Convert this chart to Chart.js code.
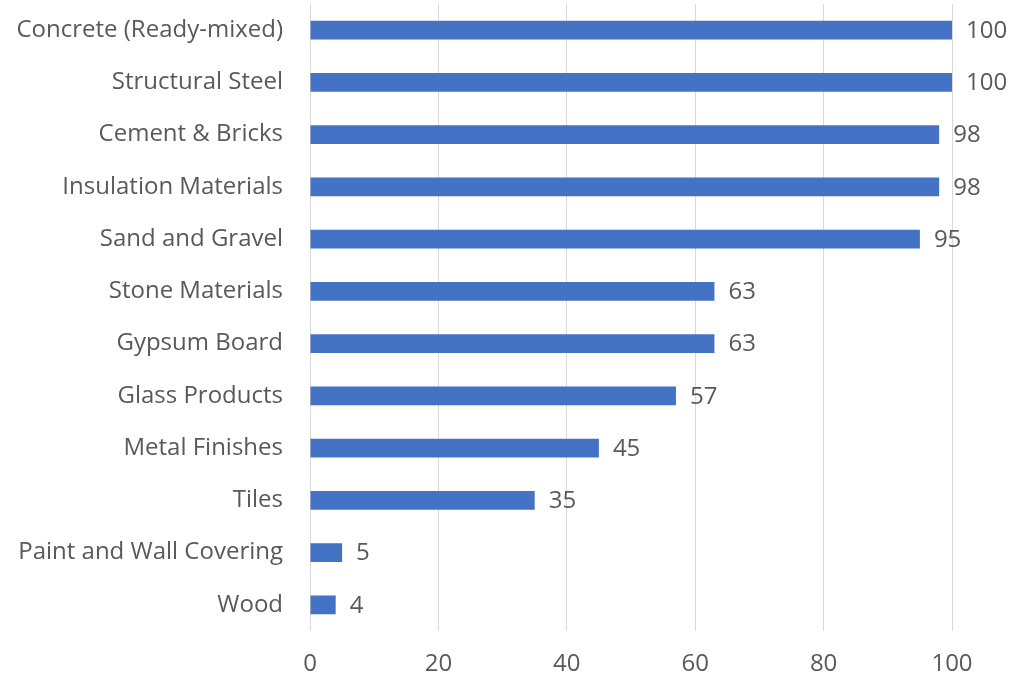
<!DOCTYPE html>
<html>
<head>
<meta charset="utf-8">
<script src="https://cdn.jsdelivr.net/npm/chart.js@4"></script>
<style>
  html, body { margin: 0; padding: 0; background: #fff; }
  #wrap { width: 1011px; height: 681px; }
</style>
</head>
<body>
<div id="wrap"><canvas id="bar-chart" width="1011" height="681"></canvas></div>
<script>
const materials = ['Concrete (Ready-mixed)', 'Structural Steel', 'Cement & Bricks', 'Insulation Materials',
    'Sand and Gravel', 'Stone Materials', 'Gypsum Board', 'Glass Products', 'Metal Finishes', 'Tiles',
    'Paint and Wall Covering', 'Wood'];
const scores = [100, 100, 98, 98, 95, 63, 63, 57, 45, 35, 5, 4];
const xTicks = [0, 20, 40, 60, 80, 100];

const fontFamily = "'Open Sans'";
const fontSize = 24;
const textColor = "#595959";

// value labels at end of bars
const valueLabels = {
    id: 'valueLabels',
    afterDatasetsDraw(chart) {
        const ctx = chart.ctx;
        const meta = chart.getDatasetMeta(0);
        ctx.save();
        ctx.font = fontSize + "px " + fontFamily;
        ctx.fillStyle = textColor;
        ctx.textAlign = 'left';
        ctx.textBaseline = 'middle';
        meta.data.forEach(function (bar, i) {
            ctx.fillText(scores[i], bar.x + 14, bar.y + 1);
        });
        ctx.restore();
    }
};

var ctx = document.getElementById("bar-chart").getContext("2d");
var myChart = new Chart(ctx, {
    type: "bar",
    data: {
        labels: materials,
        datasets: [{
            label: "Score",
            data: scores,
            backgroundColor: "#4472C4",
            categoryPercentage: 1,
            barPercentage: 0.36
        }]
    },
    options: {
        indexAxis: 'y',
        responsive: false,
        animation: false,
        layout: { padding: { top: 4, right: 59, left: 0, bottom: 0 } },
        plugins: {
            legend: { display: false },
            tooltip: { enabled: false }
        },
        scales: {
            x: {
                min: 0,
                max: 100,
                afterBuildTicks: function (scale) {
                    scale.ticks = xTicks.map(v => ({ value: v }));
                },
                afterFit: function (scale) { scale.height = 50; },
                grid: { color: "#d9d9d9", lineWidth: 1, drawTicks: false },
                border: { display: false },
                ticks: { font: { family: fontFamily, size: fontSize }, color: textColor, padding: 19 }
            },
            y: {
                afterFit: function (scale) {
                    scale.width = 310;
                    scale.paddingTop = 0;
                    scale.paddingBottom = 0;
                },
                grid: { display: false, drawTicks: false },
                border: { display: false },
                ticks: { font: { family: fontFamily, size: fontSize }, color: textColor, padding: 27, autoSkip: false }
            }
        }
    },
    plugins: [valueLabels]
});
</script>
</body>
</html>
